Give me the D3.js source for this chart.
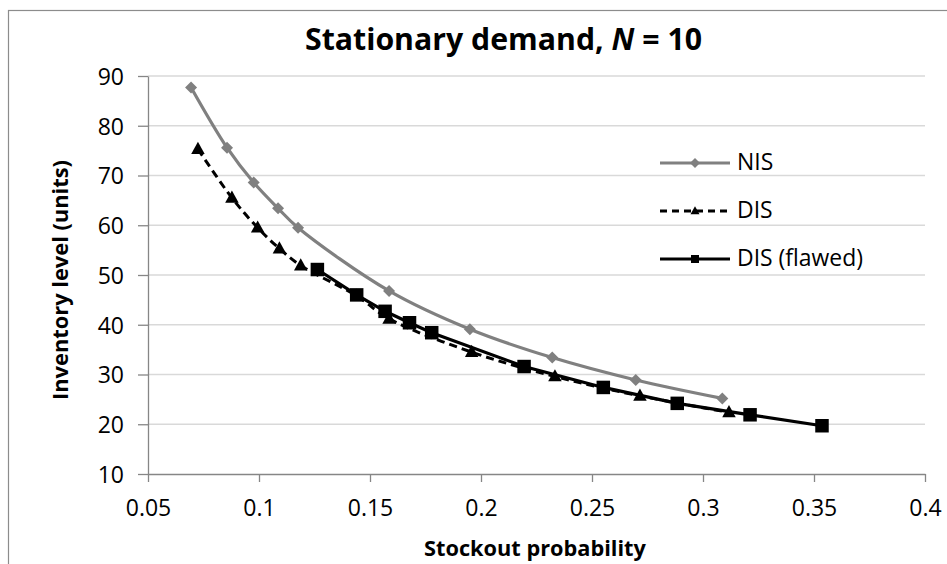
<!DOCTYPE html>
<html>
<head>
<meta charset="utf-8">
<script src="https://cdn.jsdelivr.net/npm/d3@7"></script>
<style>
  html, body { margin: 0; padding: 0; background: #fff; }
  svg { display: block; font-family: "Open Sans", "Noto Sans", sans-serif; }
</style>
</head>
<body>
<svg id="chart" width="947" height="564"></svg>
<script>
// ---- data ----
const nisX  = [0.0694, 0.0856, 0.0976, 0.1086, 0.1176, 0.1586, 0.1950, 0.2321, 0.2697, 0.3087];
const nisY  = [87.7, 75.6, 68.6, 63.4, 59.5, 46.8, 39.1, 33.4, 28.9, 25.2];
const disX  = [0.0725, 0.0878, 0.0994, 0.1092, 0.1188, 0.1440, 0.1586, 0.1958, 0.2333, 0.2716, 0.3117];
const disY  = [75.3, 65.5, 59.5, 55.3, 51.9, 45.8, 41.2, 34.5, 29.6, 25.7, 22.4];
const flawX = [0.1263, 0.1440, 0.1568, 0.1678, 0.1778, 0.2194, 0.2551, 0.2884, 0.3212, 0.3536];
const flawY = [51.1, 46.0, 42.7, 40.4, 38.4, 31.6, 27.4, 24.2, 21.9, 19.7];
const xTicks = [0.05, 0.1, 0.15, 0.2, 0.25, 0.3, 0.35, 0.4];
const yTicks = [10, 20, 30, 40, 50, 60, 70, 80, 90];
const seriesNames = ["NIS", "DIS", "DIS (flawed)"];
const titleText = "Stationary demand, ";
const xTitle = "Stockout probability";
const yTitle = "Inventory level (units)";

// ---- layout ----
const svg = d3.select("#chart");
const W = 947, H = 564;
const plot = { left: 148, right: 925, top: 76, bottom: 474 };

svg.append("rect").attr("x", 0).attr("y", 0).attr("width", W).attr("height", H).attr("fill", "#fff");
svg.append("rect").attr("x", 8.5).attr("y", 10.5).attr("width", 960).attr("height", 600)
  .attr("fill", "none").attr("stroke", "#8c8c8c").attr("stroke-width", 1.2);

const x = d3.scaleLinear().domain([0.05, 0.4]).range([plot.left, plot.right]);
const y = d3.scaleLinear().domain([10, 90]).range([plot.bottom, plot.top]);

function fit(sel, target) {
  const node = sel.node();
  const fs = parseFloat(sel.attr("font-size"));
  const w = node.getComputedTextLength();
  if (w > 0) sel.attr("font-size", (fs * target / w).toFixed(2));
  return sel;
}

// gridlines
svg.append("g").selectAll("line").data(yTicks.filter(d => d > 10)).join("line")
  .attr("x1", plot.left).attr("x2", plot.right)
  .attr("y1", d => y(d)).attr("y2", d => y(d))
  .attr("stroke", "#d9d9d9").attr("stroke-width", 1.3);

// axes
const axisColor = "#868686";
const gx = svg.append("g").attr("transform", `translate(0,${plot.bottom})`)
  .call(d3.axisBottom(x).tickValues(xTicks).tickFormat(d => String(d)).tickSize(8).tickSizeOuter(0).tickPadding(18));
const gy = svg.append("g").attr("transform", `translate(${plot.left},0)`)
  .call(d3.axisLeft(y).tickValues(yTicks).tickFormat(d => String(d)).tickSize(10).tickSizeOuter(0).tickPadding(14));
[gx, gy].forEach(g => {
  g.select(".domain").attr("stroke", axisColor).attr("stroke-width", 1.3);
  g.selectAll(".tick line").attr("stroke", axisColor).attr("stroke-width", 1.3);
  g.selectAll(".tick text").attr("fill", "#000").attr("font-family", "'Open Sans', sans-serif");
});
{
  const probe = svg.append("text").attr("font-size", 20).attr("font-family", "'Open Sans', sans-serif").text("0.05");
  fit(probe, 45.5);
  const fs = probe.attr("font-size");
  probe.remove();
  gx.selectAll(".tick text").attr("font-size", fs).attr("dy", "0.71em");
  gy.selectAll(".tick text").attr("font-size", fs).attr("dy", "0.36em");
}

// ---- series ----
const nisData = nisX.map((v, i) => [v, nisY[i]]);
const disData = disX.map((v, i) => [v, disY[i]]);
const flawData = flawX.map((v, i) => [v, flawY[i]]);

const smooth = d3.line().x(d => x(d[0])).y(d => y(d[1])).curve(d3.curveCatmullRom.alpha(0.5));
const straight = d3.line().x(d => x(d[0])).y(d => y(d[1]));

const gray = "#808080";
svg.append("path").datum(nisData).attr("d", smooth)
  .attr("fill", "none").attr("stroke", gray).attr("stroke-width", 3.2);
svg.append("path").datum(disData).attr("d", smooth)
  .attr("fill", "none").attr("stroke", "#000").attr("stroke-width", 3).attr("stroke-dasharray", "8,5");
svg.append("path").datum(flawData).attr("d", straight)
  .attr("fill", "none").attr("stroke", "#000").attr("stroke-width", 3.2);

function diamondPath(r) { return `M0,${-r}L${r},0L0,${r}L${-r},0Z`; }
function triPath(s) { const h = s * 0.9; return `M0,${-h*0.6}L${s/2},${h*0.4}L${-s/2},${h*0.4}Z`; }
function sqPath(s) { return `M${-s/2},${-s/2}h${s}v${s}h${-s}Z`; }

svg.append("g").selectAll("path").data(nisData).join("path")
  .attr("transform", d => `translate(${x(d[0])},${y(d[1])})`)
  .attr("d", diamondPath(6)).attr("fill", gray);
svg.append("g").selectAll("path").data(disData).join("path")
  .attr("transform", d => `translate(${x(d[0])},${y(d[1])})`)
  .attr("d", triPath(13.5)).attr("fill", "#000");
svg.append("g").selectAll("path").data(flawData).join("path")
  .attr("transform", d => `translate(${x(d[0])},${y(d[1])})`)
  .attr("d", sqPath(13.5)).attr("fill", "#000");

// ---- legend ----
const legY = [163, 211, 259];
const lg = svg.append("g");
const legStyles = [
  { stroke: gray, dash: null, mark: diamondPath(5), fill: gray },
  { stroke: "#000", dash: "7,5", mark: triPath(9), fill: "#000" },
  { stroke: "#000", dash: null, mark: sqPath(8), fill: "#000" }
];
seriesNames.forEach((name, i) => {
  const st = legStyles[i];
  lg.append("line").attr("x1", 660).attr("x2", 730).attr("y1", legY[i]).attr("y2", legY[i])
    .attr("stroke", st.stroke).attr("stroke-width", 3).attr("stroke-dasharray", st.dash);
  lg.append("path").attr("transform", `translate(695,${legY[i]})`).attr("d", st.mark).attr("fill", st.fill);
  lg.append("text").attr("x", 737).attr("y", legY[i] + 7).attr("font-size", 20).attr("fill", "#000").text(name);
});
{
  const t = lg.selectAll("text").filter(function() { return this.textContent === "DIS (flawed)"; });
  const w = t.node().getComputedTextLength();
  lg.selectAll("text").attr("font-size", (20 * 126 / w).toFixed(2));
}

// ---- titles ----
const title = svg.append("text").attr("x", 503.5).attr("y", 50).attr("text-anchor", "middle")
  .attr("font-size", 30).attr("font-weight", "bold").attr("fill", "#000");
title.append("tspan").text(titleText);
title.append("tspan").attr("font-style", "italic").text("N");
title.append("tspan").text(" = 10");
{
  const w = title.node().getComputedTextLength();
  title.attr("font-size", (30 * 397 / w).toFixed(2));
}

const xt = svg.append("text").attr("x", 535).attr("y", 556).attr("text-anchor", "middle")
  .attr("font-size", 20).attr("font-weight", "bold").attr("fill", "#000").text(xTitle);
fit(xt, 222);

const yt = svg.append("text").attr("transform", "translate(68,280) rotate(-90)").attr("text-anchor", "middle")
  .attr("font-size", 20).attr("font-weight", "bold").attr("fill", "#000").text(yTitle);
fit(yt, 240);
</script>
</body>
</html>
